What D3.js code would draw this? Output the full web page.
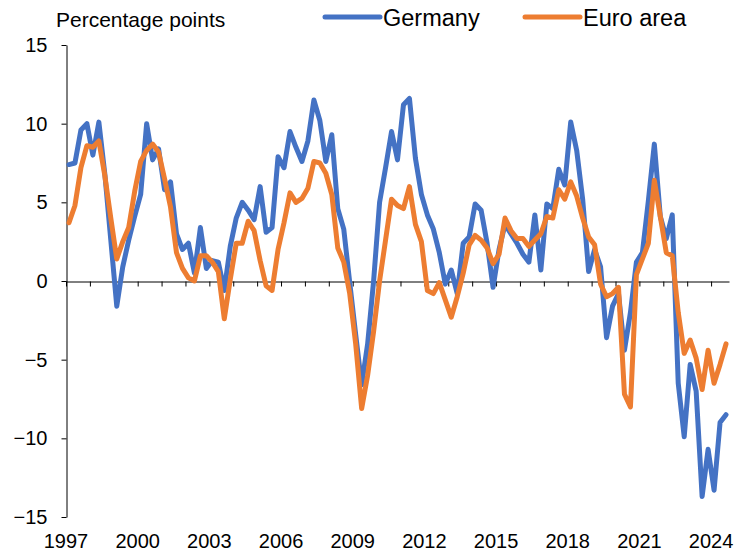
<!DOCTYPE html>
<html><head><meta charset="utf-8">
<script src="https://cdn.jsdelivr.net/npm/d3@7"></script>
<style>
body{margin:0;background:#fff}
text{font-family:"Liberation Sans",Arial,sans-serif;fill:#000}
</style>
</head><body>
<svg id="c" width="745" height="551"></svg>
<script>
// Quarterly data, 1997Q1 .. 2024Q3 (percentage points)
const germany = [
  7.4, 7.5, 9.6, 10.0, 8.0, 10.1, 6.8, 2.6, -1.6, 0.9, 2.6, 4.1,
  5.5, 10.0, 7.7, 8.4, 5.8, 6.3, 3.0, 2.0, 2.4, 0.5, 3.4, 0.8,
  1.3, 1.2, -0.6, 2.2, 4.0, 5.0, 4.5, 3.9, 6.0, 3.1, 3.4, 7.9,
  7.2, 9.5, 8.5, 7.6, 8.9, 11.5, 10.2, 7.6, 9.3, 4.6, 3.3, -0.1,
  -3.4, -6.6, -4.0, 0.0, 5.0, 7.2, 9.5, 7.7, 11.2, 11.6, 7.8, 5.5,
  4.2, 3.3, 1.8, -0.2, 0.7, -0.8, 2.4, 2.8, 4.9, 4.5, 2.4, -0.4,
  2.0, 3.6, 3.0, 2.4, 1.7, 1.2, 4.2, 0.7, 4.9, 4.6, 7.1, 6.1,
  10.1, 8.3, 5.2, 0.6, 2.0, 0.9, -3.6, -1.6, -0.8, -4.4, -2.0, 1.2,
  1.8, 5.1, 8.7, 4.1, 2.7, 4.2, -6.5, -9.9, -5.3, -7.0, -13.7, -10.7,
  -13.3, -9.0, -8.5
];
const euroArea = [
  3.7, 4.8, 7.2, 8.6, 8.5, 8.9, 6.7, 4.0, 1.4, 2.5, 3.4, 5.7,
  7.6, 8.3, 8.7, 8.2, 6.5, 4.7, 1.8, 0.8, 0.2, 0.0, 1.6, 1.6,
  1.2, 0.6, -2.4, 0.1, 2.4, 2.4, 3.8, 3.2, 1.3, -0.3, -0.6, 2.0,
  3.7, 5.6, 5.0, 5.25, 5.9, 7.6, 7.5, 6.85, 5.5, 2.1, 1.2, -0.8,
  -4.0, -8.1, -6.0, -3.2, 0.0, 2.6, 5.2, 4.8, 4.6, 6.0, 3.6, 2.5,
  -0.6, -0.8, -0.1, -1.2, -2.3, -1.0, 0.5, 2.3, 2.9, 2.6, 2.1, 1.1,
  1.7, 4.0, 3.2, 2.7, 2.7, 2.2, 2.6, 3.0, 4.1, 4.0, 5.8, 5.2,
  6.3, 5.4, 4.0, 2.8, 2.3, -0.2, -1.0, -0.8, -0.4, -7.2, -8.0, 0.4,
  1.4, 2.4, 6.4, 4.1, 1.8, 1.6, -2.0, -4.6, -3.75, -4.9, -6.9, -4.4,
  -6.5, -5.3, -4.0
];
const startYear = 1997;
const quarters = germany.map((_, i) => ({year: startYear + Math.floor(i / 4), q: i % 4 + 1}));
const yTicks = [-15, -10, -5, 0, 5, 10, 15];
const xTickYears = d3.range(1997, 2025);
const xLabelYears = [1997, 2000, 2003, 2006, 2009, 2012, 2015, 2018, 2021, 2024];
const seriesNames = ["Germany", "Euro area"];
const colors = ["#4472C4", "#ED7D31"];
const yTitle = "Percentage points";

const svg = d3.select("#c");
const x = d3.scaleLinear().domain([1997, 2024.75]).range([66, 729]);
const y = d3.scaleLinear().domain([-15, 15]).range([517, 45]);
const tPos = d => d.year + (d.q - 0.5) / 4;

// Y axis
const yAxis = svg.append("g").attr("transform", "translate(66.5,0)")
  .call(d3.axisLeft(y).tickValues(yTicks).tickSize(5).tickSizeOuter(0).tickPadding(14));
yAxis.selectAll("text").style("font-size", "20px").attr("fill", "#000");
yAxis.selectAll("line,path").attr("stroke", "#000");

// X axis on zero line
const xAxis = svg.append("g").attr("transform", `translate(0,${Math.round(y(0)) + 0.5})`)
  .call(d3.axisBottom(x).tickValues(xTickYears).tickSize(5).tickSizeOuter(0).tickFormat(""));
xAxis.selectAll("line,path").attr("stroke", "#000");

// X labels at bottom
svg.append("g").selectAll("text").data(xLabelYears).join("text")
  .attr("x", d => x(d)).attr("y", 548).attr("text-anchor", "middle")
  .style("font-size", "20px").text(d => d);

// Lines
const line = d3.line().x((d, i) => x(tPos(quarters[i]))).y(d => y(d));
[germany, euroArea].forEach((s, k) => {
  svg.append("path").datum(s).attr("d", line).attr("fill", "none")
    .attr("stroke", colors[k]).attr("stroke-width", 5)
    .attr("stroke-linejoin", "round").attr("stroke-linecap", "round");
});

// Title
svg.append("text").attr("x", 56).attr("y", 27).style("font-size", "21px").text(yTitle);

// Legend
const legendX = [325, 525];
seriesNames.forEach((n, k) => {
  svg.append("line").attr("x1", legendX[k]).attr("x2", legendX[k] + 55)
    .attr("y1", 17).attr("y2", 17).attr("stroke", colors[k]).attr("stroke-width", 5)
    .attr("stroke-linecap", "round");
  svg.append("text").attr("x", legendX[k] + 58).attr("y", 26).style("font-size", "23.5px").text(n);
});
</script>
</body></html>
